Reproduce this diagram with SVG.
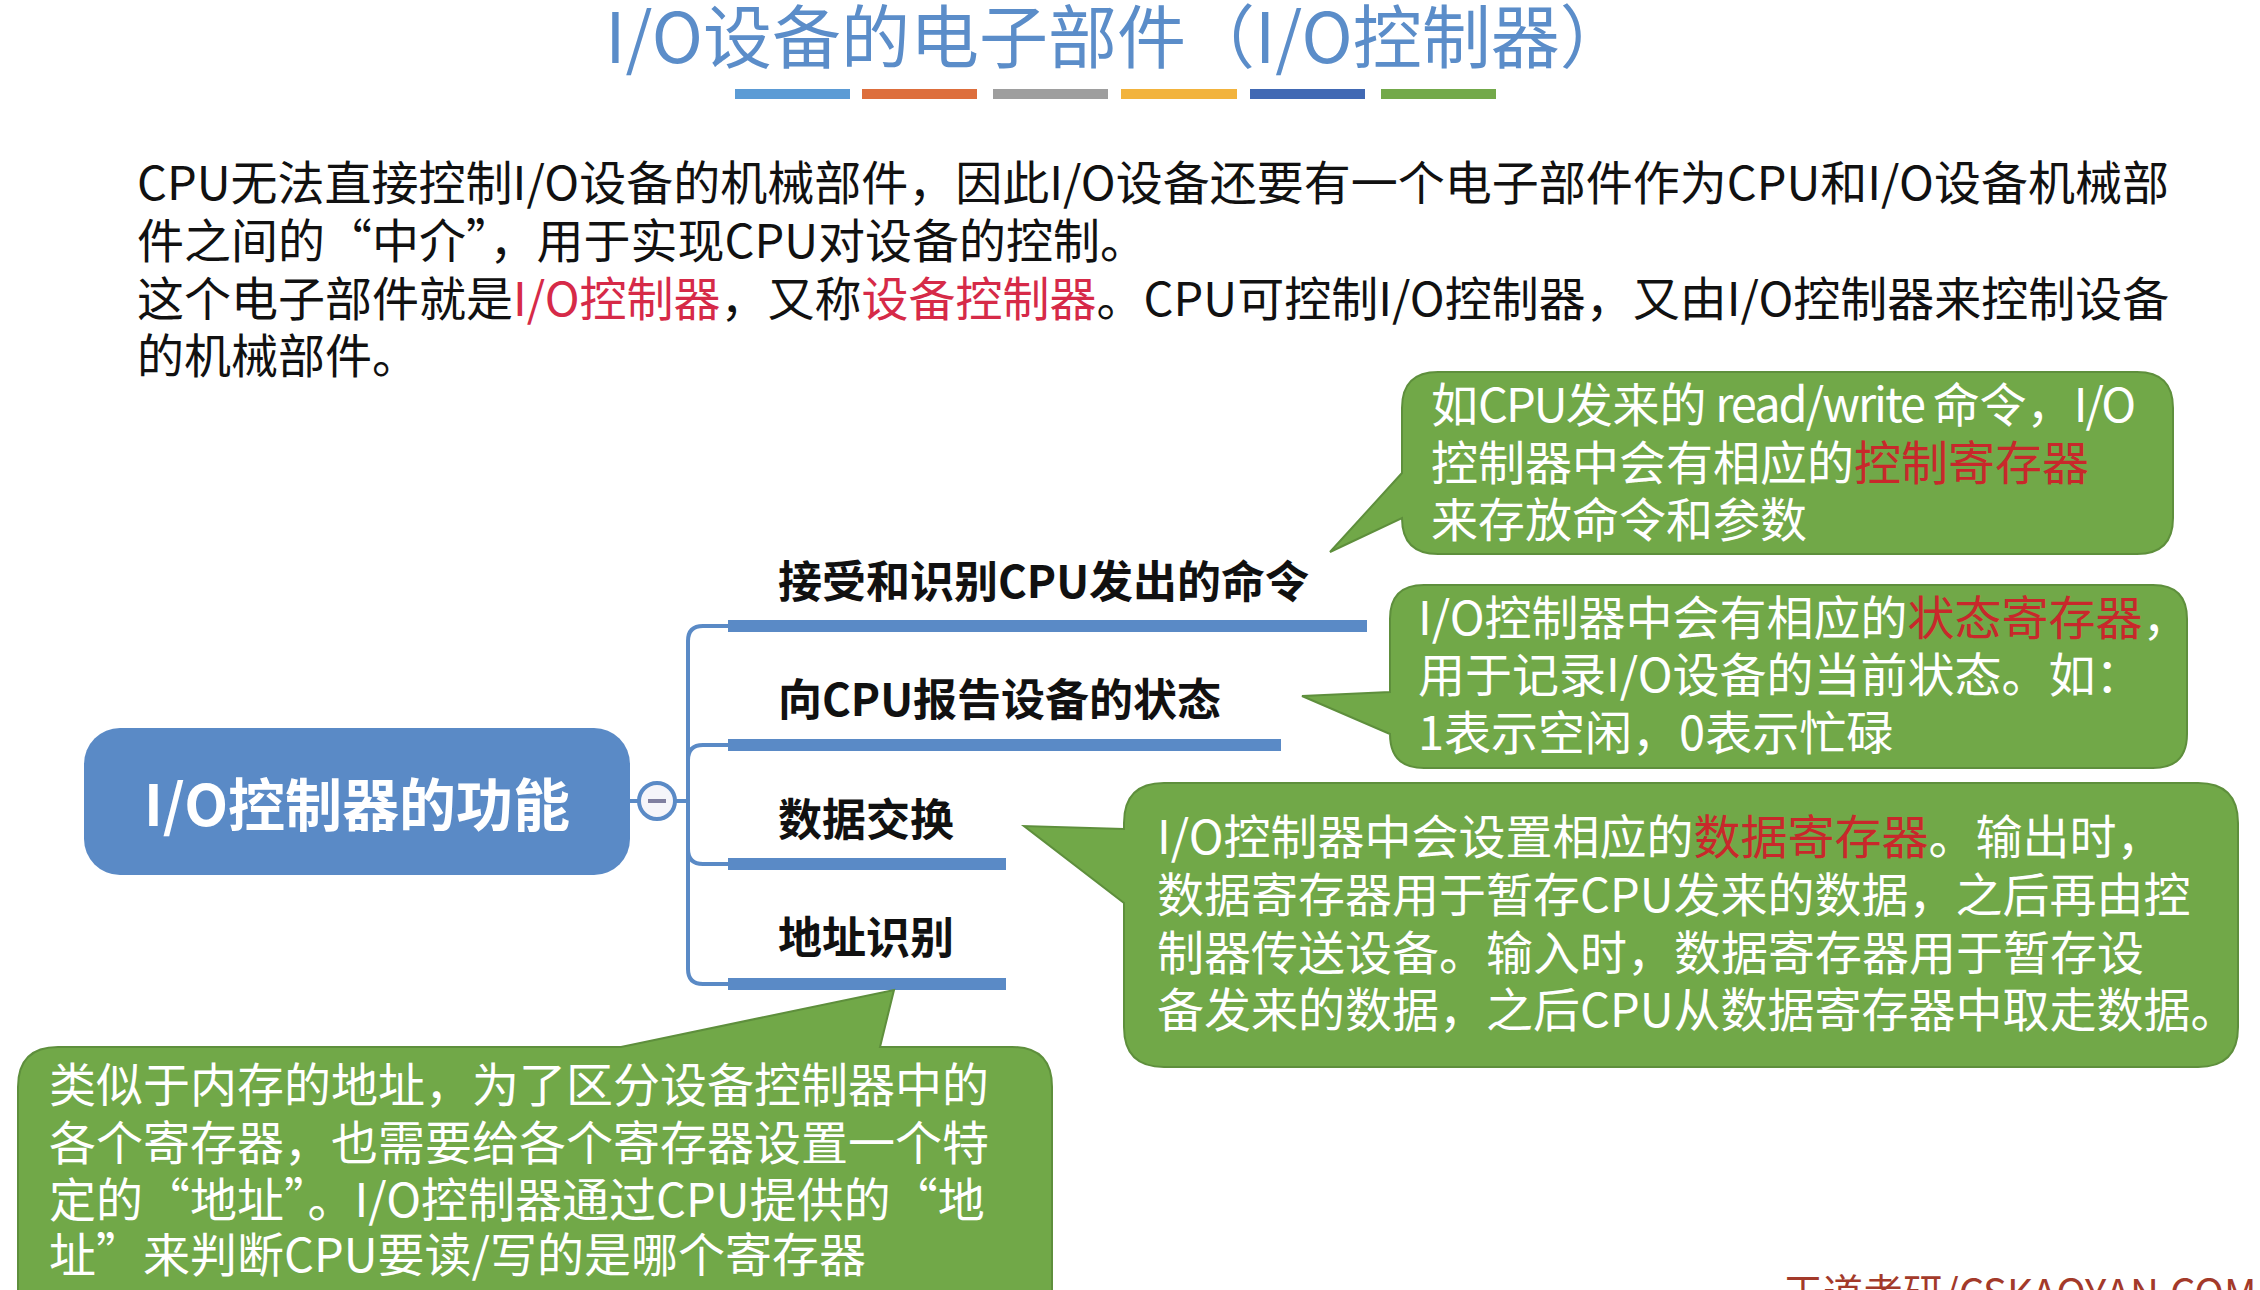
<svg xmlns="http://www.w3.org/2000/svg" width="2260" height="1290" viewBox="0 0 2260 1290">
<defs>
<style>
text{font-family:"Noto Sans CJK SC","Noto Sans",sans-serif;}
.title{font-size:69px;fill:#5B8DC9;}
.para{font-size:47px;fill:#111111;}
.pred{fill:#D62A48;}
.lbl{font-size:44px;font-weight:bold;fill:#111111;}
.node{font-size:57px;font-weight:bold;fill:#FFFFFF;}
.call{fill:#71A848;stroke:#5E8F3C;stroke-width:2;}
.ct{font-size:47px;fill:#FFFFFF;}
.cred{fill:#C8282B;}
.tight{letter-spacing:-2px;}
.conn{fill:none;stroke:#5A8AC6;stroke-width:4;}
.bar{fill:#5A8AC6;}
</style>
</defs>
<rect width="2260" height="1290" fill="#FFFFFF"/>

<g id="title">
<text class="title" x="1117" y="63" text-anchor="middle">I/O设备的电子部件（I/O控制器）</text>
<rect x="735" y="89" width="115" height="10" fill="#5B9BD5"/>
<rect x="862" y="89" width="115" height="10" fill="#DD6E3C"/>
<rect x="993" y="89" width="115" height="10" fill="#9E9E9E"/>
<rect x="1121" y="89" width="116" height="10" fill="#F2B33D"/>
<rect x="1250" y="89" width="115" height="10" fill="#4169B4"/>
<rect x="1381" y="89" width="115" height="10" fill="#73A94A"/>
</g>

<g id="intro">
<text class="para" x="137" y="200">CPU无法直接控制I/O设备的机械部件，因此I/O设备还要有一个电子部件作为CPU和I/O设备机械部</text>
<text class="para" x="137" y="258">件之间的“中介”，用于实现CPU对设备的控制。</text>
<text class="para" x="137" y="316">这个电子部件就是<tspan class="pred">I/O控制器</tspan>，又称<tspan class="pred">设备控制器</tspan>。CPU可控制I/O控制器，又由I/O控制器来控制设备</text>
<text class="para" x="137" y="373">的机械部件。</text>
</g>

<g id="connectors">
<line class="conn" x1="628" y1="801" x2="640" y2="801"/>
<line class="conn" x1="674" y1="801" x2="690" y2="801"/>
<path class="conn" d="M688,801 V641 Q688,626 703,626 H732"/>
<path class="conn" d="M688,801 V760 Q688,745 703,745 H732"/>
<path class="conn" d="M688,801 V849 Q688,864 703,864 H732"/>
<path class="conn" d="M688,801 V969 Q688,984 703,984 H732"/>
</g>

<g id="root">
<rect x="84" y="728" width="546" height="147" rx="36" ry="36" fill="#5A8AC6"/>
<text class="node" x="357" y="826" text-anchor="middle">I/O控制器的功能</text>
</g>

<g id="collapse">
<circle cx="657" cy="801" r="18" fill="#F5F5FA" stroke="#5A8AC6" stroke-width="4"/>
<line x1="648" y1="801" x2="666" y2="801" stroke="#7F7FA0" stroke-width="4"/>
</g>

<g id="branch1">
<rect class="bar" x="728" y="620" width="639" height="12"/>
<text class="lbl" x="778" y="598">接受和识别CPU发出的命令</text>
</g>
<g id="branch2">
<rect class="bar" x="728" y="739" width="553" height="12"/>
<text class="lbl" x="778" y="716">向CPU报告设备的状态</text>
</g>
<g id="branch3">
<rect class="bar" x="728" y="858" width="278" height="12"/>
<text class="lbl" x="778" y="836">数据交换</text>
</g>
<g id="branch4">
<rect class="bar" x="728" y="978" width="278" height="12"/>
<text class="lbl" x="778" y="954">地址识别</text>
</g>

<g id="note1">
<path class="call" d="M1438,372 H2137 Q2173,372 2173,408 V518 Q2173,554 2137,554 H1438 Q1402,554 1402,518 L1330,552 L1402,473 V408 Q1402,372 1438,372 Z"/>
<text class="ct" x="1431" y="422">如<tspan class="tight">CPU</tspan>发来的<tspan class="tight"> read/write </tspan>命令，<tspan class="tight">I/O</tspan></text>
<text class="ct" x="1431" y="480">控制器中会有相应的<tspan class="cred">控制寄存器</tspan></text>
<text class="ct" x="1431" y="537">来存放命令和参数</text>
</g>

<g id="note2">
<path class="call" d="M1424,585 H2153 Q2187,585 2187,619 V734 Q2187,768 2153,768 H1424 Q1390,768 1390,734 L1302,696 L1390,692 V619 Q1390,585 1424,585 Z"/>
<text class="ct" x="1418" y="635">I/O控制器中会有相应的<tspan class="cred">状态寄存器</tspan>，</text>
<text class="ct" x="1418" y="692">用于记录I/O设备的当前状态。如：</text>
<text class="ct" x="1418" y="750">1表示空闲，0表示忙碌</text>
</g>

<g id="note3">
<path class="call" d="M1164,783 H2198 Q2238,783 2238,823 V1027 Q2238,1067 2198,1067 H1164 Q1124,1067 1124,1027 V903 L1024,826 L1124,829 V823 Q1124,783 1164,783 Z"/>
<text class="ct" x="1157" y="854">I/O控制器中会设置相应的<tspan class="cred">数据寄存器</tspan>。输出时，</text>
<text class="ct" x="1157" y="912">数据寄存器用于暂存CPU发来的数据，之后再由控</text>
<text class="ct" x="1157" y="970">制器传送设备。输入时，数据寄存器用于暂存设</text>
<text class="ct" x="1157" y="1027">备发来的数据，之后CPU从数据寄存器中取走数据。</text>
</g>

<g id="note4">
<path class="call" d="M58,1047 H621 L894,990 L880,1047 H1012 Q1052,1047 1052,1087 V1330 H18 V1087 Q18,1047 58,1047 Z"/>
<text class="ct" x="49" y="1102" font-size="47.5">类似于内存的地址，为了区分设备控制器中的</text>
<text class="ct" x="49" y="1160" font-size="47.5">各个寄存器，也需要给各个寄存器设置一个特</text>
<text class="ct" x="49" y="1217" font-size="47.5">定的“地址”。I/O控制器通过CPU提供的“地</text>
<text class="ct" x="49" y="1272" font-size="47.5">址”来判断CPU要读/写的是哪个寄存器</text>
</g>

<g id="watermark">
<text x="1783" y="1308" font-size="40" fill="#A33A2A">王道考研/CSKAOYAN.COM</text>
</g>
</svg>
